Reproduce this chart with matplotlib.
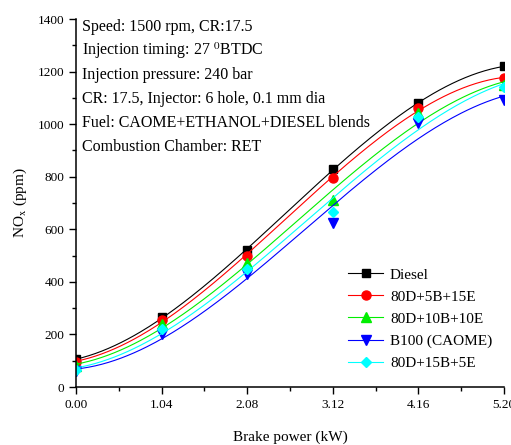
import numpy as np
import matplotlib
matplotlib.use('Agg')
import matplotlib.pyplot as plt
from matplotlib.ticker import MultipleLocator, FixedLocator

plt.rcParams['font.family'] = ['Liberation Serif', 'DejaVu Serif']
plt.rcParams['mathtext.fontset'] = 'stix'

# Brake power (kW)
brake_power = [0.00, 1.04, 2.08, 3.12, 4.16, 5.20]

# NOx emissions (ppm) per fuel blend
diesel = [105, 265, 520, 830, 1080, 1220]
d80_b5_e15 = [95, 255, 500, 795, 1060, 1175]
d80_b10_e10 = [80, 240, 470, 710, 1042, 1150]
b100 = [60, 200, 430, 623, 1004, 1090]
d80_b15_e5 = [65, 220, 450, 665, 1028, 1140]

labels = ['Diesel', '80D+5B+15E', '80D+10B+10E', 'B100 (CAOME)', '80D+15B+5E']

notes = ['Speed: 1500 rpm, CR:17.5',
         r'Injection timing: 27 $^{\mathrm{0}}$BTDC',
         'Injection pressure: 240 bar',
         'CR: 17.5, Injector: 6 hole, 0.1 mm dia',
         'Fuel: CAOME+ETHANOL+DIESEL blends',
         'Combustion Chamber: RET']


def smooth_line(x, y, n=200):
    # cubic least-squares trend line through the points
    coef = np.polyfit(x, y, 3)
    xs = np.linspace(x[0], x[-1], n)
    return xs, np.polyval(coef, xs)


fig = plt.figure(figsize=(5.11, 4.45), dpi=100)
ax = fig.add_axes([0.1487, 0.1303, 0.8375, 0.8270])

series = [diesel, d80_b5_e15, d80_b10_e10, b100, d80_b15_e5]
colors = ['black', 'red', '#00ee00', 'blue', 'cyan']
markers = ['s', 'o', '^', 'v', 'D']
msizes = [6, 6.5, 7, 7, 5.5]

for vals, c, mk, ms, lab in zip(series, colors, markers, msizes, labels):
    xs, ys = smooth_line(brake_power, vals)
    ax.plot(xs, ys, color=c, lw=0.8)
    ax.plot(brake_power, vals, linestyle='none', marker=mk, color=c, markersize=ms)
    # legend proxy
    ax.plot([], [], color=c, lw=0.8, marker=mk, markersize=ms, label=lab)

ax.set_xlim(0, 5.2)
ax.set_ylim(0, 1400)
ax.xaxis.set_major_locator(FixedLocator(brake_power))
ax.xaxis.set_minor_locator(MultipleLocator(0.52))
ax.yaxis.set_major_locator(MultipleLocator(200))
ax.yaxis.set_minor_locator(MultipleLocator(100))
ax.set_xticklabels(['%.2f' % v for v in brake_power])

ax.spines['top'].set_visible(False)
ax.spines['right'].set_visible(False)
ax.tick_params(which='major', direction='out', length=5, width=1, labelsize=9.5)
ax.tick_params(which='minor', direction='out', length=3, width=1)
for s in ['left', 'bottom']:
    ax.spines[s].set_linewidth(1.1)

ax.set_xlabel('Brake power (kW)', fontsize=11, labelpad=14)
ax.set_ylabel(r'NO$_{\mathrm{x}}$ (ppm)', fontsize=11, labelpad=6)

W, H = 511, 445
for i, t in enumerate(notes):
    fig.text(82 / W, 1 - (27 + i * 24) / H, t, fontsize=11.5, va='center', ha='left')

handles, labs = ax.get_legend_handles_labels()
ax.legend(handles[-5:], labs[-5:], loc='center left',
          bbox_to_anchor=(348 / W, 1 - 319 / H), bbox_transform=fig.transFigure,
          frameon=False, fontsize=11, handlelength=2.3, handletextpad=0.45,
          labelspacing=0.55, borderpad=0, borderaxespad=0)

fig.savefig('out.png', dpi=100)
